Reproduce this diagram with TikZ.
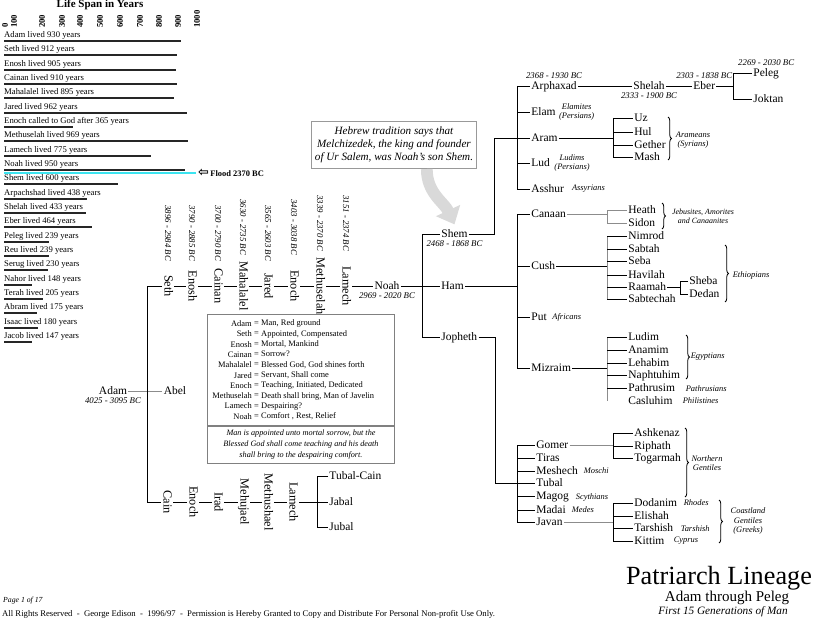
\documentclass[tikz,border=0pt]{standalone}
\usepackage{fontspec}
\setmainfont{Liberation Serif}
\newfontfamily\symbolfont{DejaVu Sans}
\usetikzlibrary{arrows.meta,positioning,decorations.pathreplacing}

\begin{document}
\begin{tikzpicture}[
      x=0.03cm, y=-0.03cm,
      person/.style={inner sep=1pt,text height=1.5ex,text depth=.25ex,font=\fontsize{9.8}{11}\selectfont},
      rperson/.style={person,rotate=-90,fill=white,font=\fontsize{10.5}{11}\selectfont},
      years/.style={inner sep=0.5pt,font=\fontsize{7.5}{8}\selectfont\itshape},
      ryears/.style={years,rotate=-90,anchor=east},
      tribe/.style={inner sep=0.5pt,align=center,font=\fontsize{7.2}{8.2}\selectfont\itshape},
      link/.style={draw=black,line width=0.7pt},
      glink/.style={draw=black!45,line width=0.7pt},
      brace/.style={decorate,decoration={brace,amplitude=3pt},line width=0.7pt},
      lifetext/.style={anchor=west,inner sep=0pt,font=\fontsize{7.4}{8}\selectfont},
      lifebar/.style={line width=1.7pt,black!85},
      scalelabel/.style={rotate=90,anchor=west,inner sep=0pt,font=\fontsize{7.4}{8}\selectfont\bfseries},
      infobox/.style={draw=black!50,line width=0.8pt,minimum width=160pt,inner sep=3pt,font=\fontsize{7.2}{8.8}\selectfont},
      meaning/.style={inner sep=0pt,font=\fontsize{7.2}{8.8}\selectfont},
      callout/.style={draw=black!40,line width=1pt,fill=white,align=center,minimum width=141pt,minimum height=40pt,inner sep=2pt,font=\fontsize{9.5}{11}\selectfont\itshape},
      pointer/.style={line width=10pt,black!15,-{Triangle[length=13pt,width=22pt]}}
    ]
    \fill[white] (0,0) rectangle (813,620);
    \useasboundingbox (0,0) rectangle (813,620);

    % life span chart
    \node[inner sep=0pt,font=\fontsize{9.4}{10}\selectfont\bfseries] (lifetitle) at (100,5) {Life Span in Years};
    \foreach \v/\px in {0/5,100/14,200/42,300/62,400/80,500/100,600/120,700/140,800/159,900/178,1000/197}
      \node[scalelabel] (scale\v) at (\px,28) {\v};
    \foreach \txt/\yrs [count=\i from 0] in {Adam lived 930 years/930, Seth lived 912 years/912,
        Enosh lived 905 years/905, Cainan lived 910 years/910, Mahalalel lived 895 years/895,
        Jared lived 962 years/962, Enoch called to God after 365 years/365, Methuselah lived 969 years/969,
        Lamech lived 775 years/775, Noah lived 950 years/950, Shem lived 600 years/600,
        Arpachshad lived 438 years/438, Shelah lived 433 years/433, Eber lived 464 years/464,
        Peleg lived 239 years/239, Reu lived 239 years/239, Serug lived 230 years/230,
        Nahor lived 148 years/148, Terah lived 205 years/205, Abram lived 175 years/175,
        Isaac lived 180 years/180, Jacob lived 147 years/147} {
      \node[lifetext] (life\i) at (4,{35.5+14.33*\i}) {\txt};
      \draw[lifebar] (4,{41+14.33*\i}) -- ({4+0.19*\yrs},{41+14.33*\i});
    }
    \draw[line width=2.5pt,color={rgb,255:red,60;green,228;blue,240}] (4,173) -- (196,173);
    \node[anchor=west,inner sep=0pt,font=\fontsize{7.2}{8}\selectfont\bfseries] (flood) at (198,173)
      {{\symbolfont\fontsize{11}{11}\selectfont ⇦}\,Flood 2370 BC};

    % Adam to Noah
    \coordinate (sethrow) at (147,286);
    \coordinate (cainrow) at (147,502);
    \node[person] (adam) at (113,391) {Adam};
    \node[years,below=0pt of adam] (adamyr) {4025 - 3095 BC};
    \node[person] (abel) at (175,391) {Abel};
    \node[person] (noah) at (387,286) {Noah};
    \node[years,below=0pt of noah] (noahyr) {2969 - 2020 BC};
    \node[person,anchor=west] (tubalcain) at (328,476) {Tubal-Cain};
    \node[person,anchor=west] (jabal) at (328,502) {Jabal};
    \node[person,anchor=west] (jubal) at (328,527) {Jubal};
    \coordinate (lamechcomb) at (317,0);
    \draw[glink] (adam) -- (abel);
    \draw[link] (sethrow) -- (cainrow);
    \draw[link] (sethrow) -- (noah);
    \draw[link] (cainrow) -- (jabal);
    \draw[link] (tubalcain.west) -| (lamechcomb |- jubal.west) -- (jubal.west);
    \foreach \n/\lbl/\px/\dt/\dy in {seth/Seth/168/3896 - 2984 BC/262, enosh/Enosh/192/3790 - 2885 BC/262,
        cainan/Cainan/218/3700 - 2790 BC/262, mahalalel/Mahalalel/243/3630 - 2735 BC/256,
        jared/Jared/268/3565 - 2603 BC/262, enoch/Enoch/294/3403 - 3038 BC/256,
        methuselah/Methuselah/320/3339 - 2370 BC/252, lamech/Lamech/346/3151 - 2374 BC/252} {
      \node[rperson] (\n) at (\px,286) {\lbl};
      \node[ryears] (yr\n) at (\px,\dy) {\dt};
    }
    \foreach \n/\lbl/\px in {cain/Cain/167, enochcain/Enoch/193, irad/Irad/218,
        mehujael/Mehujael/244, methushael/Methushael/268, lamechcain/Lamech/293}
      \node[rperson] (\n) at (\px,502) {\lbl};

    % name meanings
    \node[infobox,minimum height=94pt] (meanings) at (301,370) {};
    \node[meaning,align=right,anchor=east] (meaningnames) at (252,370)
      {Adam\\Seth\\Enosh\\Cainan\\Mahalalel\\Jared\\Enoch\\Methuselah\\Lamech\\Noah};
    \node[meaning,align=center] (meaningeq) at (256.5,370) {=\\=\\=\\=\\=\\=\\=\\=\\=\\=};
    \node[meaning,align=left,anchor=west] (meaningtext) at (261,370)
      {Man, Red ground\\Appointed, Compensated\\Mortal, Mankind\\Sorrow?\\Blessed God, God shines forth\\
       Servant, Shall come\\Teaching, Initiated, Dedicated\\Death shall bring, Man of Javelin\\Despairing?\\Comfort , Rest, Relief};
    \node[infobox,below=0pt of meanings,minimum height=32pt,align=center,font=\fontsize{7}{9.3}\selectfont\itshape] (moral)
      {Man is appointed unto mortal sorrow, but the\\Blessed God shall come teaching and his death\\shall bring to the despairing comfort.};

    % sons of Noah
    \node[person,anchor=west] (shem) at (440,234) {Shem};
    \node[years,below=0pt of shem] (shemyr) {2468 - 1868 BC};
    \node[person,anchor=west] (ham) at (440,286) {Ham};
    \node[person,anchor=west] (jopheth) at (440,337) {Jopheth};
    \coordinate (noahcomb) at (422,0);
    \draw[link] (noah) -- (ham);
    \draw[link] (shem.west) -| (noahcomb |- jopheth.west) -- (jopheth.west);
    \node[callout] (callout) at (394,145) {Hebrew tradition says that\\Melchizedek, the king and founder\\of Ur Salem, was Noah's son Shem.};
    \draw[pointer] ([xshift=28pt]callout.south) to[out=-90,in=115] ([yshift=3pt]shem.north);

    % line of Shem
    \node[person,anchor=west] (arphaxad) at (530,86) {Arphaxad};
    \node[years,above=0pt of arphaxad] (arphaxadyr) {2368 - 1930 BC};
    \node[person,anchor=west] (elam) at (530,112) {Elam};
    \node[tribe,right=1pt of elam] (elamites) {Elamites\\(Persians)};
    \node[person,anchor=west] (aram) at (530,138) {Aram};
    \node[person,anchor=west] (lud) at (530,163) {Lud};
    \node[tribe,right=2pt of lud] (ludims) {Ludims\\(Persians)};
    \node[person,anchor=west] (asshur) at (530,189) {Asshur};
    \node[tribe,right=5pt of asshur] (assyrians) {Assyrians};
    \node[person,anchor=west] (shelah) at (632,86) {Shelah};
    \node[years,below=0pt of shelah] (shelahyr) {2333 - 1900 BC};
    \node[person,anchor=west] (eber) at (692,86) {Eber};
    \node[years,above=0pt of eber] (eberyr) {2303 - 1838 BC};
    \node[person,anchor=west] (peleg) at (752,73) {Peleg};
    \node[years,above=0pt of peleg] (pelegyr) {2269 - 2030 BC};
    \node[person,anchor=west] (joktan) at (752,99) {Joktan};
    \foreach \n/\lbl/\py in {uz/Uz/118, hul/Hul/132, gether/Gether/145, mash/Mash/157}
      \node[person,anchor=west] (\n) at (633,\py) {\lbl};
    \node[tribe] (arameans) at (693,140) {Arameans\\(Syrians)};
    \coordinate (shemturn) at (494,0);
    \coordinate (shemcomb) at (517,0);
    \coordinate (ebercomb) at (733,0);
    \coordinate (aramcomb) at (613,0);
    \draw[link] (shem) -| (shemturn |- aram) -- (aram);
    \draw[link] (arphaxad.west -| shemcomb) -- (asshur.west -| shemcomb);
    \foreach \n in {arphaxad,elam,lud,asshur}
      \draw[link] (\n.west -| shemcomb) -- (\n.west);
    \draw[link] (arphaxad) -- (shelah);
    \draw[link] (shelah) -- (eber);
    \draw[link] (eber) -- (eber -| ebercomb);
    \draw[link] (peleg.west) -| (ebercomb |- joktan.west) -- (joktan.west);
    \draw[link] (aram) -- (aram -| aramcomb);
    \draw[link] (uz.west -| aramcomb) -- (mash.west -| aramcomb);
    \foreach \n in {uz,hul,gether,mash}
      \draw[link] (\n.west -| aramcomb) -- (\n.west);
    \draw[brace] (668,117) -- (668,160);

    % line of Ham
    \node[person,anchor=west] (canaan) at (530,214) {Canaan};
    \node[person,anchor=west] (cush) at (530,266) {Cush};
    \node[person,anchor=west] (put) at (530,317) {Put};
    \node[tribe,right=3pt of put] (africans) {Africans};
    \node[person,anchor=west] (mizraim) at (530,368) {Mizraim};
    \foreach \n/\lbl/\py in {heath/Heath/210, sidon/Sidon/223,
        nimrod/Nimrod/236, sabtah/Sabtah/249, seba/Seba/261, havilah/Havilah/275, raamah/Raamah/287, sabtechah/Sabtechah/299,
        ludim/Ludim/337, anamim/Anamim/350, lehabim/Lehabim/363, naphtuhim/Naphtuhim/375, pathrusim/Pathrusim/388, casluhim/Casluhim/401}
      \node[person,anchor=west] (\n) at (627,\py) {\lbl};
    \node[person,anchor=west] (sheba) at (688,281) {Sheba};
    \node[person,anchor=west] (dedan) at (688,294) {Dedan};
    \node[tribe,font=\fontsize{6.8}{7.6}\selectfont\itshape] (jebusites) at (703,216) {Jebusites, Amorites\\and Canaanites};
    \node[tribe,anchor=west] (ethiopians) at (732,275) {Ethiopians};
    \node[tribe,anchor=west] (egyptians) at (690,357) {Egyptians};
    \node[tribe,anchor=west] (pathrusians) at (685,389) {Pathrusians};
    \node[tribe,anchor=west] (philistines) at (682,401) {Philistines};
    \coordinate (hamcomb) at (517,0);
    \coordinate (hamsub) at (607,0);
    \coordinate (raamahcomb) at (680,0);
    \draw[link] (ham) -- (ham -| hamcomb);
    \draw[link] (canaan.west -| hamcomb) -- (mizraim.west -| hamcomb);
    \foreach \n in {canaan,cush,put,mizraim}
      \draw[link] (\n.west -| hamcomb) -- (\n.west);
    \draw[glink] (canaan) -- (canaan -| hamsub);
    \draw[glink] (heath.west) -| (hamsub |- sidon.west) -- (sidon.west);
    \draw[link] (cush) -- (cush -| hamsub);
    \draw[glink] (nimrod.west -| hamsub) -- (sabtechah.west -| hamsub);
    \foreach \n in {nimrod,sabtah,seba,havilah,raamah,sabtechah}
      \draw[link] (\n.west -| hamsub) -- (\n.west);
    \draw[link] (raamah) -- (raamah -| raamahcomb);
    \draw[link] (sheba.west) -| (raamahcomb |- dedan.west) -- (dedan.west);
    \draw[link] (mizraim) -- (mizraim -| hamsub);
    \draw[glink] (ludim.west -| hamsub) -- (casluhim.west -| hamsub);
    \foreach \n in {ludim,anamim,lehabim,naphtuhim,pathrusim}
      \draw[link] (\n.west -| hamsub) -- (\n.west);
    \draw[brace] (662,203) -- (662,229);
    \draw[brace] (725,245) -- (725,302);
    \draw[brace] (686,335) -- (686,379);

    % line of Jopheth
    \foreach \n/\lbl/\py in {gomer/Gomer/445, tiras/Tiras/458, meshech/Meshech/471, tubal/Tubal/483,
        magog/Magog/496, madai/Madai/510, javan/Javan/522}
      \node[person,anchor=west] (\n) at (535,\py) {\lbl};
    \node[tribe,anchor=west] (moschi) at (583,471) {Moschi};
    \node[tribe,anchor=west] (scythians) at (575,497) {Scythians};
    \node[tribe,anchor=west] (medes) at (571,510) {Medes};
    \foreach \n/\lbl/\py in {ashkenaz/Ashkenaz/433, riphath/Riphath/446, togarmah/Togarmah/458,
        dodanim/Dodanim/503, elishah/Elishah/516, tarshish/Tarshish/528, kittim/Kittim/541}
      \node[person,anchor=west] (\n) at (633,\py) {\lbl};
    \node[tribe] (northern) at (707,463) {Northern\\Gentiles};
    \node[tribe,anchor=west] (rhodes) at (683,503) {Rhodes};
    \node[tribe,anchor=west] (tarshishans) at (680,529) {Tarshish};
    \node[tribe,anchor=west] (cyprus) at (673,541) {Cyprus};
    \node[tribe] (coastland) at (748,521) {Coastland\\Gentiles\\(Greeks)};
    \coordinate (jophturn) at (495,0);
    \coordinate (jophcomb) at (517,0);
    \coordinate (jophsub) at (613,0);
    \draw[link] (jopheth) -| (jophturn |- tubal) -- (tubal);
    \draw[link] (gomer.west -| jophcomb) -- (javan.west -| jophcomb);
    \foreach \n in {gomer,tiras,meshech,magog,madai,javan}
      \draw[link] (\n.west -| jophcomb) -- (\n.west);
    \draw[glink] (gomer) -- (gomer -| jophsub);
    \draw[link] (ashkenaz.west -| jophsub) -- (togarmah.west -| jophsub);
    \foreach \n in {ashkenaz,riphath,togarmah}
      \draw[link] (\n.west -| jophsub) -- (\n.west);
    \draw[glink] (javan) -- (javan -| jophsub);
    \draw[link] (dodanim.west -| jophsub) -- (kittim.west -| jophsub);
    \foreach \n in {dodanim,elishah,tarshish,kittim}
      \draw[link] (\n.west -| jophsub) -- (\n.west);
    \draw[brace] (685,428) -- (685,497);
    \draw[brace] (719,500) -- (719,543);

    % title and footer
    \node[inner sep=0pt,font=\fontsize{22.4}{24}\selectfont] (title) at (719,578) {Patriarch Lineage};
    \node[inner sep=0pt,font=\fontsize{12.8}{14}\selectfont] (subtitle) at (727,598) {Adam through Peleg};
    \node[inner sep=0pt,font=\fontsize{9.6}{11}\selectfont\itshape] (generations) at (723,612) {First 15 Generations of Man};
    \node[anchor=west,inner sep=0pt,font=\fontsize{6.6}{8}\selectfont\itshape] (pagenum) at (3,601) {Page 1 of 17};
    \node[anchor=west,inner sep=0pt,font=\fontsize{7.4}{8}\selectfont] (rights) at (2,614)
      {All Rights Reserved \ - \ George Edison \ - \ 1996/97 \ - \ Permission is Hereby Granted to Copy and Distribute For Personal Non-profit Use Only.};
  \end{tikzpicture}
\end{document}
